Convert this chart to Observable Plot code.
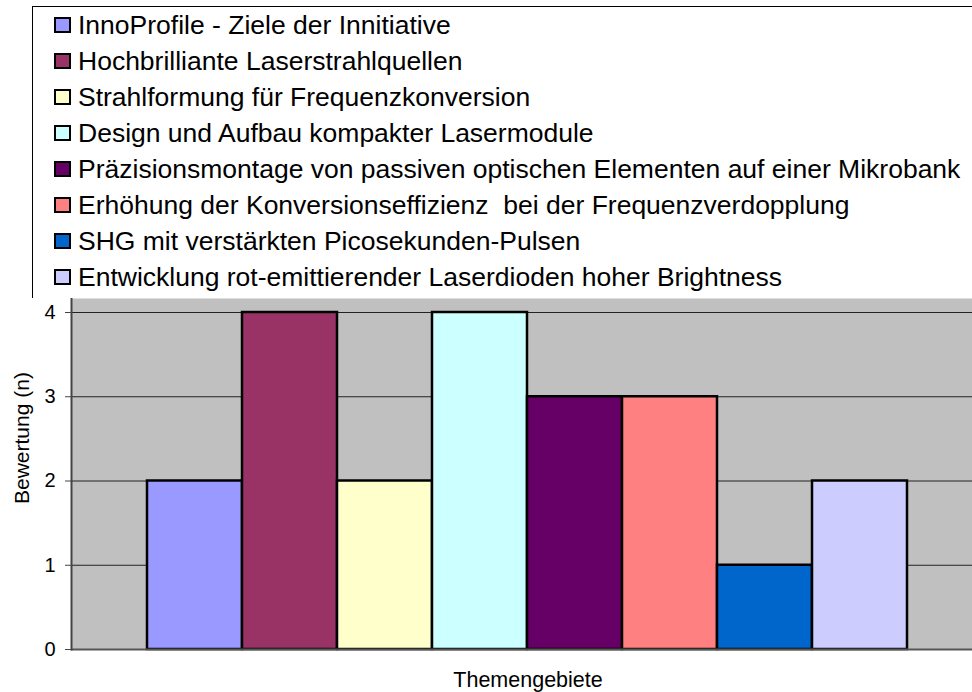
<!DOCTYPE html>
<html>
<head>
<meta charset="utf-8">
<script src="https://cdn.jsdelivr.net/npm/d3@7"></script>
<script src="https://cdn.jsdelivr.net/npm/@observablehq/plot@0.6"></script>
<style>
  body { margin: 0; background: #fff; font-family: "Liberation Sans", Arial, sans-serif; }
  #top { position: relative; width: 972px; height: 298px; overflow: hidden; }
  #legend { position: absolute; left: 32px; top: 6px; width: 960px; height: 291px;
            border: 1px solid #000; border-right: none; background: #fff; }
  .row { height: 36px; line-height: 36px; font-size: 26.5px; color: #000; white-space: pre;
         display: flex; align-items: center; }
  .sw { width: 13px; height: 12px; border: 2px solid #000; margin-left: 21px; margin-right: 7px; flex: none; }
  #chart svg { display: block; }
</style>
</head>
<body>
<div id="top"><div id="legend"></div></div>
<div id="chart"></div>
<script>
const categories = [
  "InnoProfile - Ziele der Innitiative",
  "Hochbrilliante Laserstrahlquellen",
  "Strahlformung für Frequenzkonversion",
  "Design und Aufbau kompakter Lasermodule",
  "Präzisionsmontage von passiven optischen Elementen auf einer Mikrobank",
  "Erhöhung der Konversionseffizienz  bei der Frequenzverdopplung",
  "SHG mit verstärkten Picosekunden-Pulsen",
  "Entwicklung rot-emittierender Laserdioden hoher Brightness"
];
const values = [2, 4, 2, 4, 3, 3, 1, 2];
const colors = ["#9999FF", "#993366", "#FFFFCC", "#CCFFFF", "#660066", "#FF8080", "#0066CC", "#CCCCFF"];
const yTicks = [0, 1, 2, 3, 4];
const yLabel = "Bewertung (n)";
const xLabel = "Themengebiete";

const data = categories.map((c, i) => ({cat: c, value: values[i]}));

// Legend
const legend = document.getElementById("legend");
categories.forEach((c, i) => {
  const row = document.createElement("div");
  row.className = "row";
  const sw = document.createElement("span");
  sw.className = "sw";
  sw.style.background = colors[i];
  const t = document.createElement("span");
  t.textContent = c;
  row.appendChild(sw);
  row.appendChild(t);
  legend.appendChild(row);
});

const chart = Plot.plot({
  width: 972,
  height: 394,
  marginLeft: 71,
  marginRight: 0,
  marginTop: 0,
  marginBottom: 43,
  style: {fontFamily: "Liberation Sans, Arial, sans-serif", background: "#fff"},
  x: {domain: categories, padding: 0, insetLeft: 72, insetRight: 62, axis: null},
  y: {domain: [0, 4], insetTop: 14, axis: null},
  color: {domain: categories, range: colors},
  marks: [
    Plot.frame({fill: "#C0C0C0", stroke: null}),
    Plot.ruleY([1, 2, 3, 4], {stroke: "#222", strokeWidth: 1}),
    Plot.barY(data, {x: "cat", y: "value", fill: "cat", stroke: "#000", strokeWidth: 2.5}),
    Plot.ruleY([0], {stroke: "#555", strokeWidth: 2}),
    Plot.frame({anchor: "left", stroke: "#444", strokeWidth: 2}),
    Plot.axisY({ticks: yTicks, tickSize: 6, tickPadding: 10, fontSize: 20, label: null,
                tickFormat: d => String(d), stroke: "#444", color: "#000"}),
    Plot.text([yLabel], {text: d => d, frameAnchor: "left", rotate: -90, dx: -49, dy: 30,
                         fontSize: 21, fill: "#000"}),
    Plot.text([xLabel], {text: d => d, frameAnchor: "bottom", dx: 6, dy: 37,
                         fontSize: 21.5, fill: "#000"})
  ]
});
document.getElementById("chart").appendChild(chart);
</script>
</body>
</html>
